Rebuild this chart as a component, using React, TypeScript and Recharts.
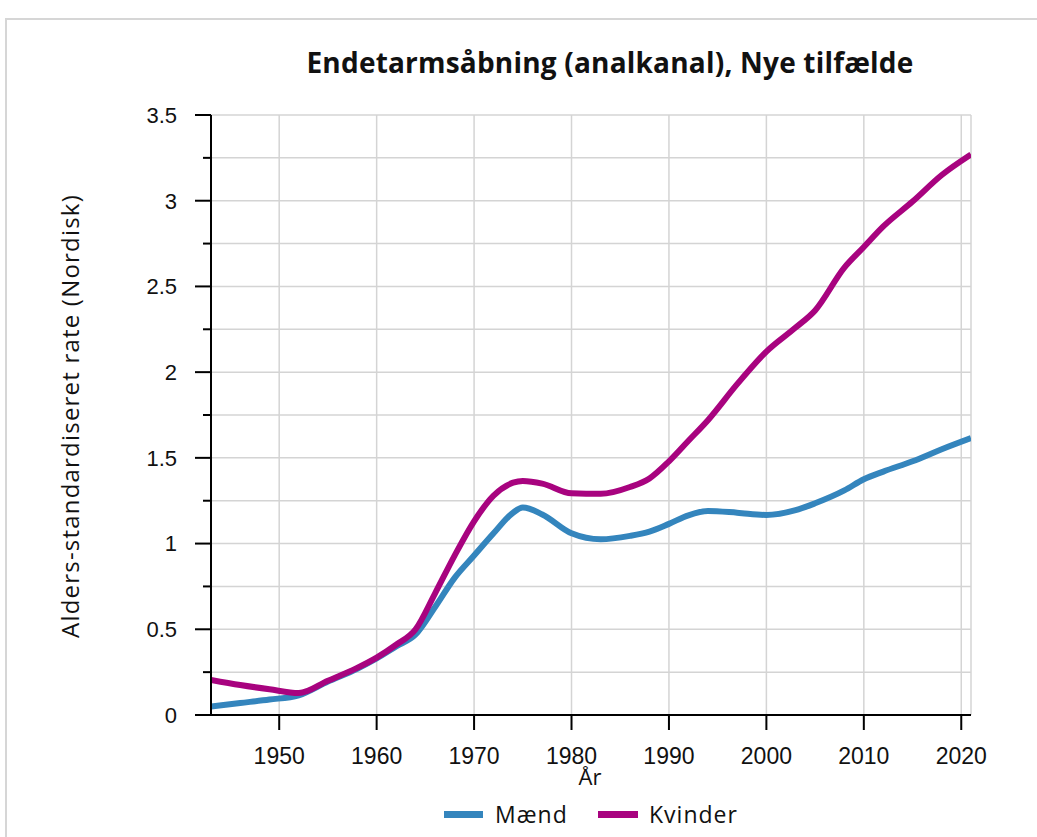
import React from "react";
import { LineChart, Line, XAxis, YAxis, CartesianGrid } from "recharts";

const years = [1943, 1946, 1949, 1952, 1955, 1958, 1960, 1962, 1964, 1966, 1968, 1970, 1972, 1974, 1975, 1977, 1980, 1983, 1986, 1988, 1990, 1992, 1994, 1997, 2000, 2003, 2005, 2008, 2010, 2012, 2015, 2018, 2021];
const maend = [0.05, 0.07, 0.09, 0.115, 0.195, 0.27, 0.33, 0.4, 0.47, 0.63, 0.8, 0.93, 1.06, 1.18, 1.21, 1.17, 1.06, 1.025, 1.045, 1.07, 1.115, 1.165, 1.19, 1.18, 1.167, 1.195, 1.235, 1.31, 1.375, 1.42, 1.48, 1.55, 1.615];
const kvinder = [0.205, 0.175, 0.15, 0.128, 0.2, 0.275, 0.335, 0.41, 0.5, 0.71, 0.93, 1.13, 1.28, 1.355, 1.365, 1.35, 1.293, 1.29, 1.33, 1.38, 1.48, 1.6, 1.72, 1.93, 2.12, 2.26, 2.36, 2.61, 2.73, 2.85, 2.995, 3.15, 3.27];
const xTicks = [1950, 1960, 1970, 1980, 1990, 2000, 2010, 2020];
const yTicks = [0, 0.25, 0.5, 0.75, 1, 1.25, 1.5, 1.75, 2, 2.25, 2.5, 2.75, 3, 3.25, 3.5];

const title = "Endetarmsåbning (analkanal), Nye tilfælde";
const xLabel = "År";
const yLabel = "Alders-standardiseret rate (Nordisk)";
const seriesNames = ["Mænd", "Kvinder"];
const colors = ["#3485bd", "#a8037f"];

const data = years.map((y, i) => ({ year: y, maend: maend[i], kvinder: kvinder[i] }));

const YTick = (props: any) => {
  const { x, y, payload } = props;
  const v = payload.value as number;
  const major = Math.abs(v * 2 - Math.round(v * 2)) < 1e-6;
  return (
    <g>
      <line x1={x - (major ? 16 : 8)} x2={x} y1={y} y2={y} stroke="#000" strokeWidth={2} />
      {major && (
        <text x={x - 34} y={y} dy="0.36em" textAnchor="end" fontSize={22} fontFamily="'Liberation Sans', Arial, sans-serif" fill="#111">
          {String(v)}
        </text>
      )}
    </g>
  );
};

export default function App() {
  const sansUi = "'Open Sans', 'Noto Sans', sans-serif";
  return (
    <div style={{ position: "absolute", left: 0, top: 0, width: 1037, height: 837, overflow: "hidden", background: "#fff" }}>
      <div style={{ position: "absolute", left: 5, top: 18, width: 1100, height: 900, borderTop: "2px solid #d6d6d6", borderLeft: "2px solid #d6d6d6" }} />
      <div style={{ position: "absolute", left: 0, top: 0 }}>
        <LineChart width={1037} height={837} data={data} margin={{ top: 115, right: 66, bottom: 92, left: 0 }}>
          <CartesianGrid stroke="#d4d4d4" strokeWidth={1.5} />
          <XAxis
            dataKey="year"
            type="number"
            domain={[1943, 2021]}
            ticks={xTicks}
            allowDataOverflow
            height={30}
            tickSize={15}
            tickMargin={18}
            axisLine={{ stroke: "#000", strokeWidth: 2 }}
            tickLine={{ stroke: "#000", strokeWidth: 2 }}
            tick={{ fontSize: 23, fill: "#111", fontFamily: "'Liberation Sans', Arial, sans-serif" }}
          />
          <YAxis
            type="number"
            domain={[0, 3.5]}
            ticks={yTicks}
            width={211}
            tickSize={0}
            tickMargin={0}
            tickLine={false}
            axisLine={{ stroke: "#000", strokeWidth: 2 }}
            tick={<YTick />}
            interval={0}
          />
          <Line type="monotone" dataKey="maend" stroke={colors[0]} strokeWidth={6} dot={false} isAnimationActive={false} />
          <Line type="monotone" dataKey="kvinder" stroke={colors[1]} strokeWidth={6} dot={false} isAnimationActive={false} />
        </LineChart>
      </div>
      <div style={{ position: "absolute", left: 260, top: 43, width: 700, textAlign: "center", fontFamily: sansUi, fontWeight: 700, fontSize: 28, color: "#111", whiteSpace: "nowrap", letterSpacing: 0.2 }}>
        {title}
      </div>
      <div style={{ position: "absolute", left: 540, top: 761, width: 100, textAlign: "center", fontFamily: sansUi, fontSize: 22, color: "#111", lineHeight: "30px" }}>
        {xLabel}
      </div>
      <div style={{ position: "absolute", left: 70, top: 416, width: 0, height: 0 }}>
        <div style={{ position: "absolute", left: -350, top: -17, width: 700, textAlign: "center", transform: "rotate(-90deg)", fontFamily: sansUi, fontSize: 24, color: "#111", lineHeight: "34px", whiteSpace: "nowrap", letterSpacing: 1.2 }}>
          {yLabel}
        </div>
      </div>
      <div style={{ position: "absolute", left: 444, top: 811, width: 39, height: 7, background: colors[0] }} />
      <div style={{ position: "absolute", left: 495, top: 798, fontFamily: sansUi, fontSize: 23, color: "#111", lineHeight: "32px", letterSpacing: 1 }}>{seriesNames[0]}</div>
      <div style={{ position: "absolute", left: 598, top: 811, width: 40, height: 7, background: colors[1] }} />
      <div style={{ position: "absolute", left: 649, top: 798, fontFamily: sansUi, fontSize: 23, color: "#111", lineHeight: "32px", letterSpacing: 1 }}>{seriesNames[1]}</div>
    </div>
  );
}
